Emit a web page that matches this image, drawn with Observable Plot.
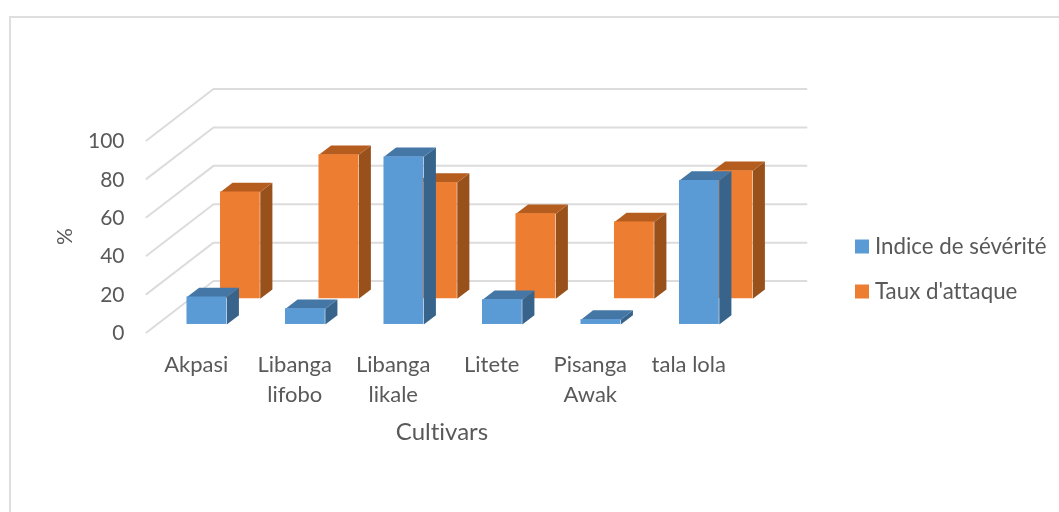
<!DOCTYPE html>
<html>
<head>
<meta charset="utf-8">
<script src="https://cdn.jsdelivr.net/npm/d3@7"></script>
<script src="https://cdn.jsdelivr.net/npm/@observablehq/plot@0.6"></script>
<style>
html,body{margin:0;padding:0;background:#fff;overflow:hidden}
#frame{position:absolute;left:9px;top:16px;width:1060px;height:520px;border:2px solid #dedede;box-sizing:border-box}
#chart{position:absolute;left:0;top:0}
#chart svg{display:block;background:transparent;filter:blur(0.45px);font-variant-ligatures:none}
</style>
</head>
<body>
<div id="frame"></div>
<div id="chart"></div>
<script>
const categories = ["Akpasi", "Libanga\nlifobo", "Libanga\nlikale", "Litete", "Pisanga\nAwak", "tala lola"];
const severite = [14.3, 8.2, 87.3, 12.9, 2.5, 75];
const attaque = [55.6, 75, 60.5, 44.3, 40, 66.6];
const gridTicks = [0, 20, 40, 60, 80, 100];
const legendLabels = ["Indice de sévérité", "Taux d'attaque"];

// Oblique projection: depth 0 is the front of the floor, depth 1 the back wall.
const depthX = 0.68;  // category units per unit of depth
const depthY = 26.8;  // value units per unit of depth
const floorEnd = 6.02;
const px = (x, d) => x + d * depthX;
const py = (v, d) => v + d * depthY;
const barLeft = 0.305, barWidth = 0.404;

function box(values, dFront, dBack, name) {
  const front = [], top = [], side = [];
  values.forEach((v, i) => {
    const a = i + barLeft, b = a + barWidth;
    front.push({x1: px(a, dFront), x2: px(b, dFront), y1: py(0, dFront), y2: py(v, dFront)});
    const T = `${name}${i}`;
    top.push({id: T, x: px(a, dFront), y: py(v, dFront)}, {id: T, x: px(b, dFront), y: py(v, dFront)},
             {id: T, x: px(b, dBack), y: py(v, dBack)}, {id: T, x: px(a, dBack), y: py(v, dBack)});
    side.push({id: T, x: px(b, dFront), y: py(0, dFront)}, {id: T, x: px(b, dFront), y: py(v, dFront)},
              {id: T, x: px(b, dBack), y: py(v, dBack)}, {id: T, x: px(b, dBack), y: py(0, dBack)});
  });
  return {front, top, side};
}
function boxMarks(b, cFront, cTop, cSide) {
  return [
    Plot.line(b.side, {x: "x", y: "y", z: "id", fill: cSide, stroke: "none", curve: "linear-closed"}),
    Plot.line(b.top, {x: "x", y: "y", z: "id", fill: cTop, stroke: "none", curve: "linear-closed"}),
    Plot.rect(b.front, {x1: "x1", x2: "x2", y1: "y1", y2: "y2", fill: cFront, inset: 0})
  ];
}

const gridPts = gridTicks.flatMap(t => [
  {t, x: px(0, 0), y: py(t, 0)},
  {t, x: px(0, 1), y: py(t, 1)},
  {t, x: px(floorEnd, 1) , y: py(t, 1)}
]);
const orange = box(attaque, 0.656, 0.837, "o");
const blue = box(severite, 0.156, 0.337, "b");
const TXT = "#595959", FONT = "Lato, Carlito, sans-serif";

const plot = Plot.plot({
  width: 1059, height: 512,
  marginLeft: 146, marginRight: 322, marginTop: 140, marginBottom: 180,
  style: {fontFamily: FONT, background: "transparent", overflow: "visible"},
  x: {domain: [0, 6], axis: null},
  y: {domain: [0, 100], axis: null},
  marks: [
    Plot.line(gridPts, {x: "x", y: "y", z: "t", stroke: "#dcdcdc", strokeWidth: 2}),
    ...boxMarks(orange, "#ed7d31", "#b55d1f", "#98511b"),
    ...boxMarks(blue, "#5b9bd5", "#4477a6", "#38648b"),
    Plot.axisY(gridTicks, {anchor: "left", tickSize: 0, tickPadding: 22, fontSize: 21, dy: 1, fill: TXT, label: "%", labelAnchor: "center", labelArrow: "none", labelOffset: 89, tickFormat: d => d}),
    Plot.text(categories, {x: (d, i) => i + 0.5, y: () => 0, dx: 0.5, dy: 18, text: d => d, lineAnchor: "top", lineHeight: 1.364, fontSize: 22, fill: TXT}),
    Plot.text(["Cultivars"], {x: () => 3, y: () => 0, dy: 100, text: d => d, fontSize: 24, fill: TXT}),
    Plot.dot(legendLabels, {frameAnchor: "top-left", dx: 715.5, dy: 106, symbol: "square", r: 7.9, fill: "#5b9bd5", filter: (d, i) => i === 0}),
    Plot.dot(legendLabels, {frameAnchor: "top-left", dx: 715.5, dy: 151, symbol: "square", r: 7.9, fill: "#ed7d31", filter: (d, i) => i === 1}),
    Plot.text(legendLabels, {frameAnchor: "top-left", dx: 728.5, dy: 106, text: d => d, textAnchor: "start", lineAnchor: "middle", fontSize: 22.3, fill: TXT, filter: (d, i) => i === 0}),
    Plot.text(legendLabels, {frameAnchor: "top-left", dx: 728.5, dy: 151, text: d => d, textAnchor: "start", lineAnchor: "middle", fontSize: 22.3, fill: TXT, filter: (d, i) => i === 1})
  ]
});
document.getElementById("chart").append(plot);
</script>
</body>
</html>
